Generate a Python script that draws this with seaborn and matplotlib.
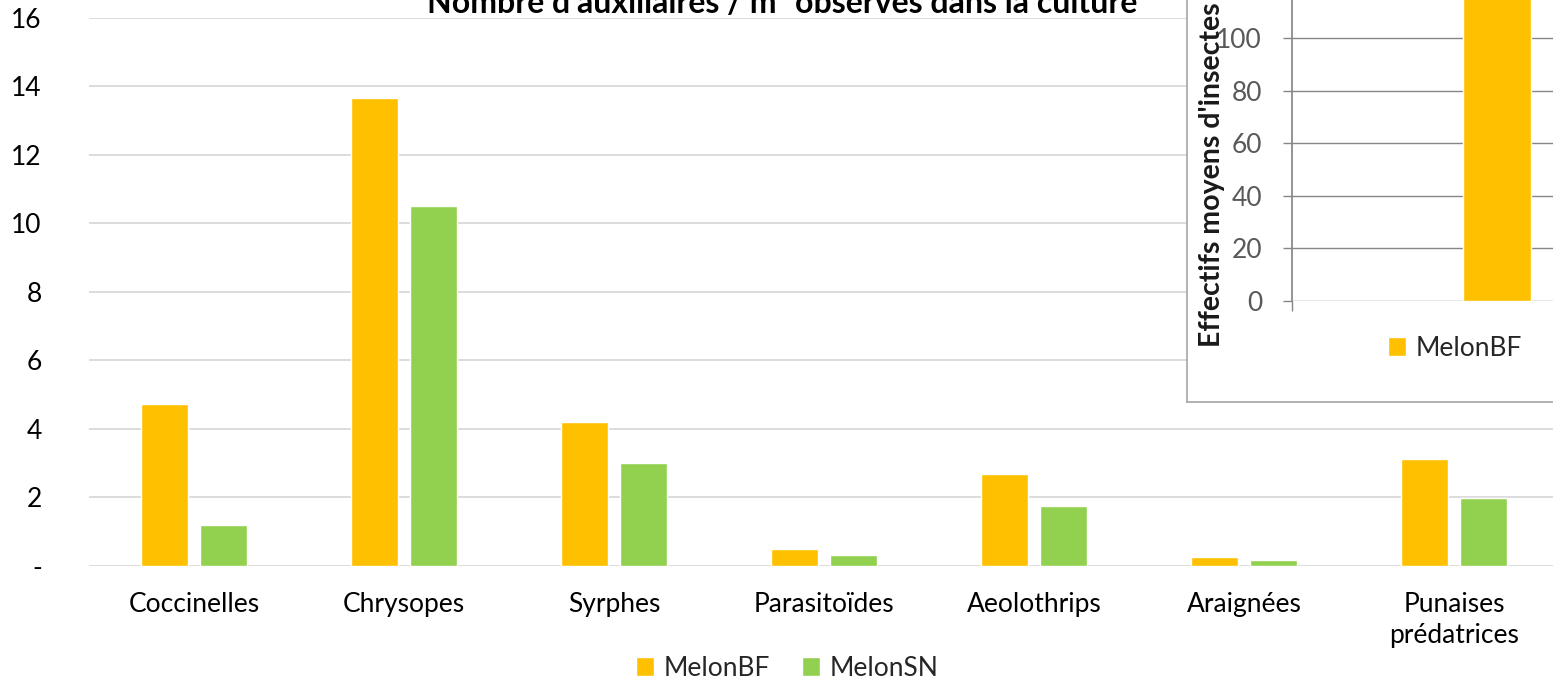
"""
Plot the number of beneficial insects per m2 observed in the melon crop.
"""

import pandas as pd
import seaborn as sns
import matplotlib.pyplot as plt
from matplotlib.patches import Patch

# Data
categories = ['Coccinelles', 'Chrysopes', 'Syrphes', 'Parasitoïdes',
              'Aeolothrips', 'Araignées', 'Punaises\nprédatrices']
melon_bf = [4.73, 13.66, 4.20, 0.50, 2.69, 0.26, 3.12]
melon_sn = [1.20, 10.51, 3.00, 0.32, 1.75, 0.17, 1.99]
y_ticks = [0, 2, 4, 6, 8, 10, 12, 14, 16]
y_tick_labels = ['-', '2', '4', '6', '8', '10', '12', '14', '16']

# Inset chart (mostly cropped in the original)
inset_series = ['MelonBF']
inset_values = [130]
inset_ticks = [0, 20, 40, 60, 80, 100]

# Colours
custom_palette = {'MelonBF': '#FFC000', 'MelonSN': '#92D050'}

# Build the long format table for seaborn
df = pd.DataFrame({
    'Categorie': categories * 2,
    'Serie': ['MelonBF'] * len(categories) + ['MelonSN'] * len(categories),
    'Valeur': melon_bf + melon_sn,
})
df_inset = pd.DataFrame({'Serie': inset_series, 'Valeur': inset_values})

sns.set_theme(style='white')
plt.rcParams['font.family'] = ['Lato', 'DejaVu Sans']
font_size = 19

W, H = 1553, 681
fig = plt.figure(figsize=(W / 100, H / 100), dpi=100)

# Main chart
ax = fig.add_axes([89 / W, (H - 566) / H, 1470 / W, (566 - 17.7) / H])
sns.barplot(data=df, x='Categorie', y='Valeur', hue='Serie', palette=custom_palette,
            width=0.56, gap=0.2, saturation=1, ax=ax, legend=False)
ax.set_ylim(0, 16)
ax.set_xlim(-0.5, len(categories) - 0.5)
ax.set_yticks(y_ticks)
ax.set_yticklabels(y_tick_labels)
ax.yaxis.grid(True, color='#d9d9d9', linewidth=1.3)
ax.set_axisbelow(True)
for side in ['left', 'right', 'top', 'bottom']:
    ax.spines[side].set_visible(False)
ax.tick_params(axis='y', length=0, pad=34, labelsize=font_size, labelcolor='#000000')
ax.tick_params(axis='x', length=0, pad=19, labelsize=font_size, labelcolor='#000000')
for lbl in ax.get_xticklabels():
    lbl.set_linespacing(1.3)
ax.set_xlabel('')
ax.set_ylabel('')

# Title (cut at the top in the original)
fig.text(782 / W, 1 - 13 / H, "Nombre d'auxiliaires / m² observés dans la culture",
         ha='center', va='baseline', fontsize=23, fontweight='bold', color='#000000')

# Main legend
handles = [Patch(facecolor=custom_palette[s], label=s) for s in ['MelonBF', 'MelonSN']]
fig.legend(handles=handles, loc='center', bbox_to_anchor=(787 / W, 1 - 668 / H),
           ncol=2, frameon=False, fontsize=font_size, handlelength=0.7, handleheight=0.7,
           handletextpad=0.35, columnspacing=1.2, borderaxespad=0, borderpad=0)

# Inset frame
frame = fig.add_axes([1187 / W, (H - 402) / H, 0.5, 1.0], zorder=5)
frame.set_facecolor('white')
frame.set_xticks([])
frame.set_yticks([])
for side in frame.spines.values():
    side.set_color('#a6a6a6')
    side.set_linewidth(1.2)
frame.legend(handles=[Patch(facecolor=custom_palette['MelonBF'], label='MelonBF')],
             loc='center', bbox_to_anchor=(1455 / W, 1 - 348 / H),
             bbox_transform=fig.transFigure, frameon=False, fontsize=19,
             handlelength=0.7, handleheight=0.7, handletextpad=0.35,
             borderaxespad=0, borderpad=0, labelcolor='#262626')

# Inset chart
inset = fig.add_axes([1292 / W, (H - 301) / H, (W - 1292) / W, 301 / H], zorder=6)
inset.patch.set_alpha(0)
sns.barplot(data=df_inset, x='Serie', y='Valeur', color=custom_palette['MelonBF'],
            width=0.6, saturation=1, ax=inset)
inset.set_xlim(-1.81, 0.49)
inset.set_ylim(0, 114.4)
inset.set_yticks(inset_ticks)
inset.yaxis.grid(True, color='#868686', linewidth=1)
inset.set_axisbelow(True)
inset.set_xticks([-1.81])
inset.set_xticklabels([''])
for side in ['right', 'top', 'bottom']:
    inset.spines[side].set_visible(False)
inset.spines['left'].set_color('#868686')
inset.tick_params(axis='y', length=6.5, width=1, color='#868686', pad=15,
                  labelsize=19, labelcolor='#595959', left=True)
inset.tick_params(axis='x', length=7, width=1, color='#868686', bottom=True)
inset.set_xlabel('')
inset.set_ylabel('')
fig.text(1212 / W, 1 - 175 / H, "Effectifs moyens d'insectes", rotation=90,
         ha='center', va='center', fontsize=20.5, fontweight='bold', color='#1a1a1a',
         zorder=7)

fig.savefig('out.png', dpi=100)
